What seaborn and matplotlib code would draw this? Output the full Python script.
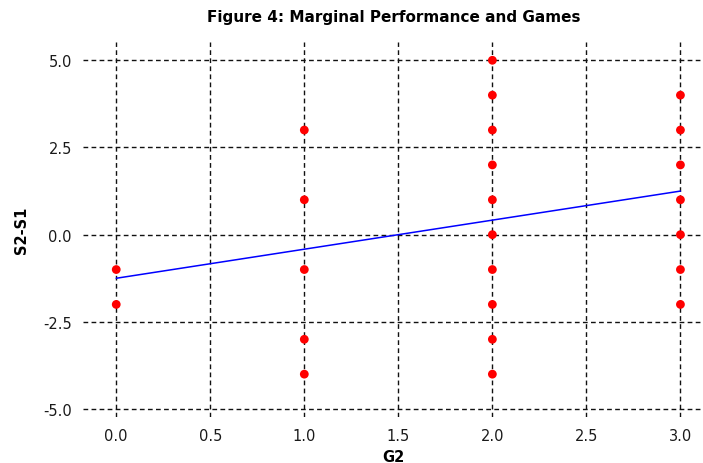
import matplotlib
matplotlib.use("Agg")
import matplotlib.pyplot as plt
import seaborn as sns
import pandas as pd

g2 = [0, 0,
      1, 1, 1, 1, 1,
      2, 2, 2, 2, 2, 2, 2, 2, 2, 2,
      3, 3, 3, 3, 3, 3, 3]
s_diff = [-1, -2,
          3, 1, -1, -3, -4,
          5, 4, 3, 2, 1, 0, -1, -2, -3, -4,
          4, 3, 2, 1, 0, -1, -2]
fit_x = [0, 3]
fit_y = [-1.25, 1.25]
xticks = [0.0, 0.5, 1.0, 1.5, 2.0, 2.5, 3.0]
yticks = [-5.0, -2.5, 0.0, 2.5, 5.0]

sns.set_style("white")
plt.rcParams['font.family'] = ['DejaVu Sans']

fig = plt.figure(figsize=(7.03, 4.64), dpi=100)
ax = fig.add_axes([0.118, 0.099, 0.882, 0.808])

df = pd.DataFrame({"G2": g2, "S2-S1": s_diff})
line = pd.DataFrame({"x": fit_x, "y": fit_y})

for v in xticks:
    ax.axvline(v, color="#111111", lw=1.0, ls=(0, (3.4, 2.4)), zorder=0)
for v in yticks:
    ax.axhline(v, color="#111111", lw=1.0, ls=(0, (3.4, 2.4)), zorder=0)

sns.lineplot(data=line, x="x", y="y", ax=ax, color="blue", lw=1.1, zorder=2)
sns.scatterplot(data=df, x="G2", y="S2-S1", ax=ax, color="red", s=40,
                edgecolor="none", zorder=3)

ax.set_xlim(-0.177, 3.12)
ax.set_ylim(-5.23, 5.52)
ax.set_xticks(xticks)
ax.set_yticks(yticks)
ax.set_xticklabels([f"{v:.1f}" for v in xticks], fontsize=10.5, color="#1a1a1a")
ax.set_yticklabels([f"{v:.1f}" for v in yticks], fontsize=10.5, color="#1a1a1a")
ax.tick_params(length=0, pad=8)
for s in ax.spines.values():
    s.set_visible(False)

ax.set_xlabel("G2", fontsize=10.5, fontweight="bold", labelpad=4, color="black")
ax.set_ylabel("S2-S1", fontsize=10.5, fontweight="bold", labelpad=10, color="black")
fig.suptitle("Figure 4: Marginal Performance and Games", x=0.56, y=0.978,
             fontsize=11, fontweight="heavy", color="black")

fig.savefig("out.png", dpi=100)
